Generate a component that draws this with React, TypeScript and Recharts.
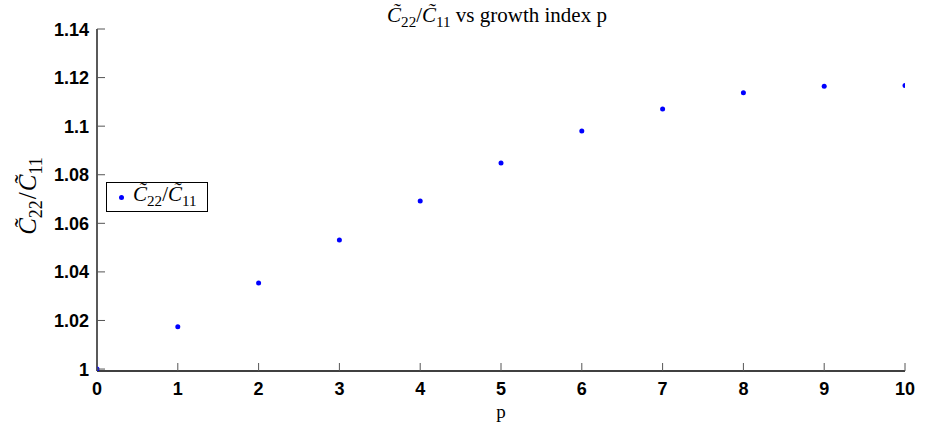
import React from 'react';
import { ScatterChart, Scatter, XAxis, YAxis } from 'recharts';

// growth index p and the ratio C22/C11
const pValues = [0, 1, 2, 3, 4, 5, 6, 7, 8, 9, 10];
const ratioValues = [1.0, 1.0174, 1.0354, 1.0531, 1.0692, 1.0848, 1.098, 1.1071, 1.1138, 1.1164, 1.1167];
const xTicks = [0, 1, 2, 3, 4, 5, 6, 7, 8, 9, 10];
const yTicks = [1, 1.02, 1.04, 1.06, 1.08, 1.1, 1.12, 1.14];

const data = pValues.map((p, i) => ({ p, ratio: ratioValues[i] }));

const TICK_FONT = '"Liberation Sans", Arial, sans-serif';
const SERIF = '"Liberation Serif", "DejaVu Serif", serif';

const fmt = (v: number) => String(Number(v.toFixed(2)));

const XTick = (props: any) => {
  const { x, y, payload } = props;
  return (
    <g>
      <line x1={x} x2={x} y1={y} y2={y - 8} stroke="#555" strokeWidth={1} />
      <text x={x} y={y + 24} textAnchor="middle" fontFamily={TICK_FONT} fontWeight="bold" fontSize={18} fill="#000">
        {payload.value}
      </text>
    </g>
  );
};

const YTick = (props: any) => {
  const { x, y, payload } = props;
  return (
    <g>
      <line x1={x} x2={x + 8} y1={y} y2={y} stroke="#555" strokeWidth={1} />
      <text x={x - 8} y={y + 6.5} textAnchor="end" fontFamily={TICK_FONT} fontWeight="bold" fontSize={18} fill="#000">
        {fmt(payload.value)}
      </text>
    </g>
  );
};

// C~22 / C~11 as svg text
const RatioSvg = ({ size }: { size: number }) => (
  <>
    <tspan fontStyle="italic">C&#771;</tspan>
    <tspan fontSize={size * 0.72} dy={size * 0.22}>22</tspan>
    <tspan dy={-size * 0.22} dx={1}>/</tspan>
    <tspan fontStyle="italic" dx={1}>C&#771;</tspan>
    <tspan fontSize={size * 0.72} dy={size * 0.22}>11</tspan>
  </>
);

const RatioHtml = () => (
  <span>
    <i>C&#771;</i>
    <sub style={{ fontSize: '0.72em' }}>22</sub>/<i>C&#771;</i>
    <sub style={{ fontSize: '0.72em' }}>11</sub>
  </span>
);

const YLabel = (props: any) => {
  const { viewBox } = props;
  const cy = viewBox.y + viewBox.height / 2 - 4;
  return (
    <text x={36} y={cy} transform={`rotate(-90 36 ${cy})`} textAnchor="middle" fontFamily={SERIF} fontSize={25} fill="#000">
      <RatioSvg size={25} />
    </text>
  );
};

const Dot = (props: any) => <circle cx={props.cx} cy={props.cy} r={2.5} fill="#0000ff" />;

export default function App() {
  return (
    <div style={{ position: 'absolute', left: 0, top: 0, width: 928, height: 423, background: '#fff' }}>
      <div
        style={{
          position: 'absolute',
          left: 97,
          width: 800,
          top: 3,
          textAlign: 'center',
          fontFamily: SERIF,
          fontSize: 21,
          zIndex: 2,
        }}
      >
        <RatioHtml /> vs growth index p
      </div>
      <div
        style={{
          position: 'absolute',
          left: 106,
          top: 182,
          width: 102,
          height: 30,
          border: '1px solid #000',
          background: '#fff',
          boxSizing: 'border-box',
          display: 'flex',
          alignItems: 'center',
          fontFamily: SERIF,
          fontSize: 21,
          lineHeight: 1,
          zIndex: 2,
        }}
      >
        <span style={{ display: 'inline-block', width: 5, height: 5, borderRadius: 3, background: '#0000ff', marginLeft: 12, marginRight: 9 }} />
        <RatioHtml />
      </div>
      <ScatterChart width={928} height={423} margin={{ top: 29, right: 23, left: 0, bottom: 0 }}>
        <XAxis
          type="number"
          dataKey="p"
          domain={[0, 10]}
          ticks={xTicks}
          interval={0}
          allowDataOverflow
          height={52}
          tickSize={0}
          tickMargin={0}
          tickLine={false}
          tick={<XTick />}
          axisLine={{ stroke: '#000', strokeWidth: 1.3 }}
          label={{ value: 'p', position: 'insideBottom', offset: 5, fontFamily: SERIF, fontSize: 19, fill: '#000' }}
        />
        <YAxis
          type="number"
          dataKey="ratio"
          domain={[0.9992, 1.14]}
          ticks={yTicks}
          interval={0}
          allowDataOverflow
          width={97}
          tickSize={0}
          tickMargin={0}
          tickLine={false}
          tick={<YTick />}
          axisLine={{ stroke: '#000', strokeWidth: 1.3 }}
          label={{ content: <YLabel /> }}
        />
        <Scatter name="ratio" data={data} fill="#0000ff" shape={<Dot />} isAnimationActive={false} />
      </ScatterChart>
    </div>
  );
}
